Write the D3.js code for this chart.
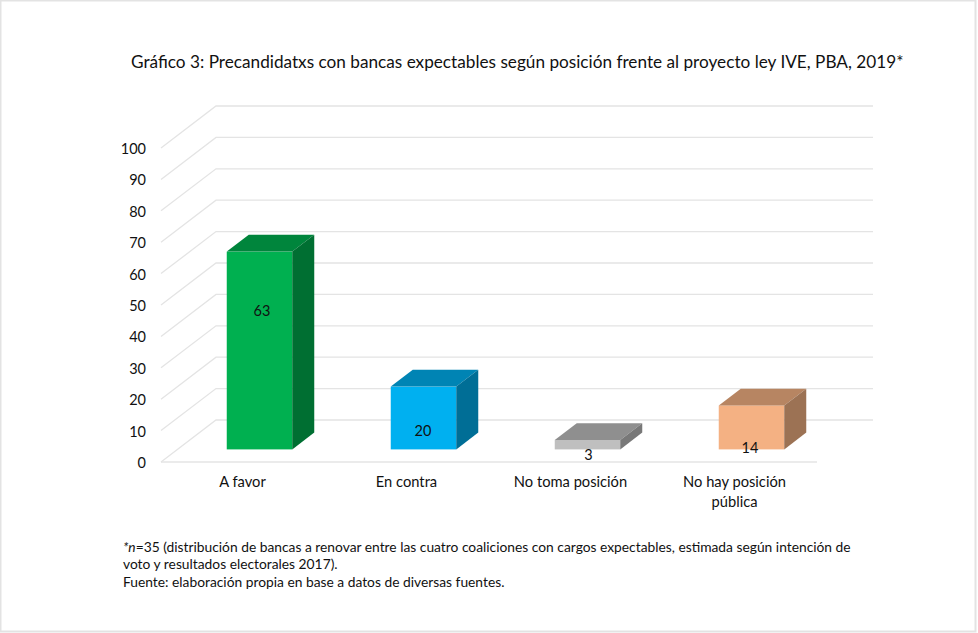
<!DOCTYPE html>
<html>
<head>
<meta charset="utf-8">
<script src="https://cdn.jsdelivr.net/npm/d3@7"></script>
<style>
  html, body { margin: 0; padding: 0; background: #fff; }
  text { font-family: Lato, "Noto Sans", sans-serif; fill: #111; }
</style>
</head>
<body>
<svg id="chart" width="978" height="633"></svg>
<script>
// Values
var categories = ["A favor", "En contra", "No toma posición", "No hay posición pública"];
var values = [63, 20, 3, 14];
var yTicks = [0, 10, 20, 30, 40, 50, 60, 70, 80, 90, 100];
var frontColors = ["#00b050", "#00b0f0", "#bfbfbf", "#f4b183"];
var topColors = ["#00853c", "#0084b4", "#8f8f8f", "#b78562"];
var sideColors = ["#006f32", "#006e96", "#787878", "#9c7254"];

var svg = d3.select("#chart");

// Front plane of the fake 3D box
var x = d3.scaleBand().domain(categories).range([161, 817]);
var y = d3.scaleLinear().domain([0, 100]).range([462, 148]);
var depthX = 55, depthY = 42;
var barWidth = 65.5;

// Border of the picture
svg.append("rect")
  .attr("x", 0.5).attr("y", 0.5)
  .attr("width", 975).attr("height", 631)
  .attr("fill", "none")
  .attr("stroke", "#e3e3e3")
  .attr("stroke-width", 2);

// Title
svg.append("text")
  .attr("x", 131).attr("y", 68)
  .attr("font-size", 17.2)
  .text("Gráfico 3: Precandidatxs con bancas expectables según posición frente al proyecto ley IVE, PBA, 2019*");

// Gridlines: diagonal on the left wall, straight on the back wall
var grid = svg.append("g").attr("fill", "none").attr("stroke", "#e4e4e4").attr("stroke-width", 1.3);
grid.selectAll("path")
  .data(yTicks)
  .enter()
  .append("path")
  .attr("d", function(d) {
    return "M" + x.range()[0] + "," + y(d) +
      "L" + (x.range()[0] + depthX) + "," + (y(d) - depthY) +
      "H" + (x.range()[1] + depthX + 1);
  });

// Floor front edge
svg.append("line")
  .attr("x1", x.range()[0]).attr("x2", x.range()[1])
  .attr("y1", y(0)).attr("y2", y(0))
  .attr("stroke", "#e4e4e4")
  .attr("stroke-width", 1.3);

// Y tick labels
svg.selectAll("text.ytick")
  .data(yTicks)
  .enter()
  .append("text")
  .attr("class", "ytick")
  .attr("x", 146)
  .attr("y", function(d) { return y(d) + 6; })
  .attr("text-anchor", "end")
  .attr("font-size", 14.5)
  .text(function(d) { return d; });

// Bars: front, top and side faces
function barX(d, i) { return x(categories[i]) + x.bandwidth() / 2 - barWidth / 2 + depthX * 0.3; }
function barBase() { return y(0) - depthY * 0.3; }
function barTop(d) { return barBase() - (y(0) - y(d)); }
var dx = depthX * 0.4, dy = depthY * 0.4;

svg.selectAll("rect.front")
  .data(values)
  .enter()
  .append("rect")
  .attr("class", "front")
  .attr("x", barX)
  .attr("y", barTop)
  .attr("width", barWidth)
  .attr("height", function(d) { return barBase() - barTop(d); })
  .attr("fill", function(d, i) { return frontColors[i]; });

svg.selectAll("path.top")
  .data(values)
  .enter()
  .append("path")
  .attr("class", "top")
  .attr("fill", function(d, i) { return topColors[i]; })
  .attr("d", function(d, i) {
    var x0 = barX(d, i), t = barTop(d);
    return "M" + x0 + "," + t + "l" + dx + "," + (-dy) + "h" + barWidth + "l" + (-dx) + "," + dy + "Z";
  });

svg.selectAll("path.side")
  .data(values)
  .enter()
  .append("path")
  .attr("class", "side")
  .attr("fill", function(d, i) { return sideColors[i]; })
  .attr("d", function(d, i) {
    var x1 = barX(d, i) + barWidth, t = barTop(d);
    return "M" + x1 + "," + t + "l" + dx + "," + (-dy) + "V" + (barBase() - dy) + "l" + (-dx) + "," + dy + "Z";
  });

// Value labels, hand nudged because the original placement is not regular
var labelNudgeX = [2.5, -0.5, 1, -1.5];
var labelNudgeY = [-53, 0, -3, 7];
svg.selectAll("text.val")
  .data(values)
  .enter()
  .append("text")
  .attr("class", "val")
  .attr("x", function(d, i) { return barX(d, i) + barWidth / 2 + labelNudgeX[i]; })
  .attr("y", function(d, i) { return y(d / 2) + 5.5 + labelNudgeY[i]; })
  .attr("text-anchor", "middle")
  .attr("font-size", 14.5)
  .text(function(d) { return d; });

// Category labels
var catLines = [["A favor"], ["En contra"], ["No toma posición"], ["No hay posición", "pública"]];
catLines.forEach(function(lines, i) {
  var t = svg.append("text")
    .attr("text-anchor", "middle")
    .attr("font-size", 14.7);
  lines.forEach(function(line, k) {
    t.append("tspan")
      .attr("x", x(categories[i]) + x.bandwidth() / 2 - 0.5)
      .attr("y", 487 + k * 20)
      .text(line);
  });
});

// Footnote
var note = svg.append("g").attr("font-size", 13.8);
var n1 = note.append("text").attr("x", 123).attr("y", 552);
n1.append("tspan").attr("font-style", "italic").text("*n");
n1.append("tspan").text("=35 (distribución de bancas a renovar entre las cuatro coaliciones con cargos expectables, estimada según intención de");
note.append("text").attr("x", 123).attr("y", 569).text("voto y resultados electorales 2017).");
note.append("text").attr("x", 123).attr("y", 587).text("Fuente: elaboración propia en base a datos de diversas fuentes.");
</script>
</body>
</html>
